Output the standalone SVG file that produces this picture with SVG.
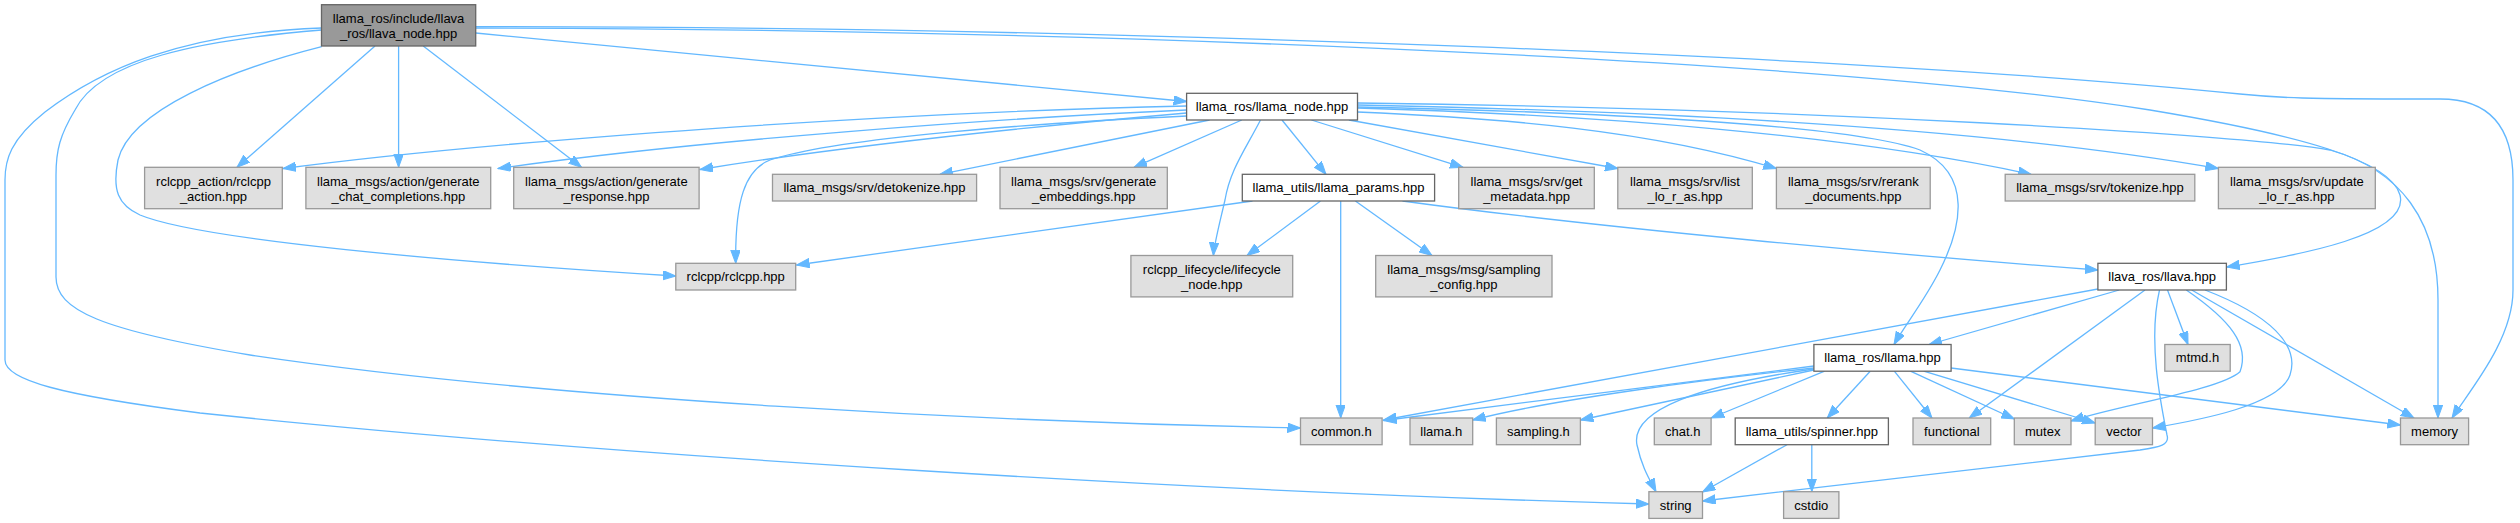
<svg xmlns="http://www.w3.org/2000/svg" width="2520" height="523" viewBox="0 0 2520 523">
<style>
text{font-family:"Liberation Sans",Arial,Helvetica,sans-serif;font-size:13px;fill:#000;text-anchor:middle}
.g{fill:#e0e0e0;stroke:#999999;stroke-width:1.3}
.w{fill:#ffffff;stroke:#666666;stroke-width:1.3}
.m{fill:#999999;stroke:#666666;stroke-width:1.3}
#edges path{fill:none;stroke:#63b8ff;stroke-width:1.3;marker-end:url(#ah)}
</style>
<defs>
<marker id="ah" markerUnits="userSpaceOnUse" markerWidth="14" markerHeight="10" refX="13" refY="4.7" orient="auto">
<path d="M0,0 L13,4.7 L0,9.4 z" fill="#63b8ff" stroke="#63b8ff" stroke-width="1"/>
</marker>
</defs>
<rect width="2520" height="523" fill="#ffffff"/>
<g id="edges">
<!-- main -->
<path d="M475.7,33 L1186.6,101.5"/>
<path d="M375,46 L237,167.3"/>
<path d="M398.6,46 L398.6,167.3"/>
<path d="M423.2,46 L581.5,167.3"/>
<path d="M321.7,46.7 C230,70 130,110 118,160 C112,190 118,205 140,215 C200,240 450,262 675.8,276"/>
<path d="M321.7,30 C200,40 100,60 75,110 C60,135 56,150 56,175 L56,277 C56,310 100,330 250,355 C550,400 1000,422 1300.5,428"/>
<path d="M321.7,28 C180,33 100,70 45,112 C10,140 5,160 5,180 L5,360 C5,380 60,395 200,413 C600,455 1200,492 1648.9,504"/>
<path d="M475.7,28 C1000,28 1800,55 2150,110 C2300,135 2390,160 2400,195 C2410,235 2300,255 2226.7,267"/>
<path d="M475.7,26.7 C1000,26 1800,50 2240,94 C2280,98 2300,99 2440,99 C2500,99 2513,140 2513,180 L2513,290 C2513,340 2470,390 2452,418"/>
<!-- llama_node -->
<path d="M1186.6,106 C900,112 500,140 283,168.5"/>
<path d="M1186.6,110 C1000,118 700,140 498,168.5"/>
<path d="M1186.6,113 C1050,125 850,145 700,169.5"/>
<path d="M1186.6,116 C1000,125 830,140 770,160 C745,170 735,200 735.7,263.3"/>
<path d="M1209.6,120 L940,174.3"/>
<path d="M1241.8,120 L1134,167.3"/>
<path d="M1260.5,120 C1245,150 1230,170 1225,200 C1218,230 1214,245 1213.4,255.5"/>
<path d="M1282,120 L1326,174.3"/>
<path d="M1311.4,120 L1463,167.3"/>
<path d="M1348.9,120 L1618,168.5"/>
<path d="M1357.5,112 C1500,118 1650,130 1776.4,168.5"/>
<path d="M1357.5,108 C1600,115 1850,135 2031,174.3"/>
<path d="M1357.5,105 C1700,112 2000,130 2218.4,168.5"/>
<path d="M1357.5,107 C1600,112 1850,125 1920,150 C1975,175 1960,230 1940,270 C1925,300 1905,325 1894,344.5"/>
<path d="M1357.5,103 C1800,108 2250,135 2330,150 C2400,170 2438,220 2438,300 L2438,418"/>
<!-- llama_params -->
<path d="M1252.5,201 L796.5,265"/>
<path d="M1320.5,201 L1247,255.5"/>
<path d="M1340.7,201 L1340.7,418"/>
<path d="M1355.4,201 L1432,255.5"/>
<path d="M1402.5,201 C1600,228 1900,255 2097.9,270"/>
<!-- llava.hpp -->
<path d="M2097.9,289 L1383.5,420"/>
<path d="M2119.3,290 L1929,344.5"/>
<path d="M2145,290 L1969.3,418"/>
<path d="M2159.5,290 C2148,340 2160,400 2167,435 C2170,445 2160,447 2140,450 L1702.5,501"/>
<path d="M2167.5,290 L2188,344.5"/>
<path d="M2186.3,290 C2230,320 2250,345 2240,371.7 C2220,390 2120,405 2071,421"/>
<path d="M2205,290 C2270,315 2300,345 2290,375 C2280,405 2200,420 2152.5,428"/>
<path d="M2191.7,290 L2414,418"/>
<!-- llama.hpp -->
<path d="M1813.9,366 L1383.5,420.5"/>
<path d="M1813.9,368 C1700,380 1550,400 1472.7,420"/>
<path d="M1813.9,370 L1580.4,420"/>
<path d="M1824.6,371.2 L1711.1,418"/>
<path d="M1813.9,369 C1700,385 1630,410 1637,445 C1642,468 1650,480 1656,491.7"/>
<path d="M1870.2,371.2 L1827.3,418"/>
<path d="M1894.3,371.2 L1932,418"/>
<path d="M1910.4,371.2 L2014.3,419"/>
<path d="M1923.7,371.2 L2095.2,423"/>
<path d="M1951,368 L2400.5,425"/>
<!-- spinner -->
<path d="M1787,444.7 L1702.5,492"/>
<path d="M1811.8,444.7 L1811.8,491.7"/>
</g>
<g id="n_main"><rect class="m" x="321.5" y="4.7" width="154.2" height="41.3"/><text x="398.6" y="23.4">llama_ros/include/llava</text><text x="398.6" y="38">_ros/llava_node.hpp</text></g>
<g id="n_rclcpp_action"><rect class="g" x="144.6" y="167.3" width="137.7" height="41.4"/><text x="213.5" y="186">rclcpp_action/rclcpp</text><text x="213.5" y="200.6">_action.hpp</text></g>
<g id="n_chat"><rect class="g" x="305.9" y="167.3" width="184.8" height="41.4"/><text x="398.3" y="186">llama_msgs/action/generate</text><text x="398.3" y="200.6">_chat_completions.hpp</text></g>
<g id="n_response"><rect class="g" x="513.7" y="167.3" width="185.4" height="41.4"/><text x="606.4" y="186">llama_msgs/action/generate</text><text x="606.4" y="200.6">_response.hpp</text></g>
<g id="n_detokenize"><rect class="g" x="772.5" y="174.3" width="204.1" height="26.7"/><text x="874.5" y="192.1">llama_msgs/srv/detokenize.hpp</text></g>
<g id="n_embeddings"><rect class="g" x="1000" y="167.3" width="167.3" height="41.4"/><text x="1083.7" y="186">llama_msgs/srv/generate</text><text x="1083.7" y="200.6">_embeddings.hpp</text></g>
<g id="n_llama_node"><rect class="w" x="1186.6" y="93.3" width="170.9" height="26.7"/><text x="1272" y="111.1">llama_ros/llama_node.hpp</text></g>
<g id="n_llama_params"><rect class="w" x="1242.3" y="174.3" width="192.3" height="26.7"/><text x="1338.5" y="192.1">llama_utils/llama_params.hpp</text></g>
<g id="n_get_metadata"><rect class="g" x="1458.7" y="167.3" width="135.6" height="41.4"/><text x="1526.5" y="186">llama_msgs/srv/get</text><text x="1526.5" y="200.6">_metadata.hpp</text></g>
<g id="n_list"><rect class="g" x="1617.8" y="167.3" width="134.5" height="41.4"/><text x="1685" y="186">llama_msgs/srv/list</text><text x="1685" y="200.6">_lo_r_as.hpp</text></g>
<g id="n_rerank"><rect class="g" x="1776.4" y="167.3" width="153.8" height="41.4"/><text x="1853.3" y="186">llama_msgs/srv/rerank</text><text x="1853.3" y="200.6">_documents.hpp</text></g>
<g id="n_tokenize"><rect class="g" x="2005.2" y="174.3" width="189.6" height="26.7"/><text x="2100" y="192.1">llama_msgs/srv/tokenize.hpp</text></g>
<g id="n_update"><rect class="g" x="2218.4" y="167.3" width="156.9" height="41.4"/><text x="2296.9" y="186">llama_msgs/srv/update</text><text x="2296.9" y="200.6">_lo_r_as.hpp</text></g>
<g id="n_rclcpp"><rect class="g" x="675.8" y="263.3" width="119.9" height="26.7"/><text x="735.7" y="281.1">rclcpp/rclcpp.hpp</text></g>
<g id="n_lifecycle"><rect class="g" x="1130.9" y="255.5" width="161.8" height="41.4"/><text x="1211.8" y="274.2">rclcpp_lifecycle/lifecycle</text><text x="1211.8" y="288.8">_node.hpp</text></g>
<g id="n_sampling_config"><rect class="g" x="1375.7" y="255.5" width="176.3" height="41.4"/><text x="1463.9" y="274.2">llama_msgs/msg/sampling</text><text x="1463.9" y="288.8">_config.hpp</text></g>
<g id="n_llava"><rect class="w" x="2097.9" y="263.3" width="128.5" height="26.7"/><text x="2162.1" y="281.1">llava_ros/llava.hpp</text></g>
<g id="n_llama"><rect class="w" x="1813.9" y="344.5" width="137.2" height="26.7"/><text x="1882.5" y="362.3">llama_ros/llama.hpp</text></g>
<g id="n_mtmd"><rect class="g" x="2164.8" y="344.5" width="65.4" height="26.7"/><text x="2197.5" y="362.3">mtmd.h</text></g>
<g id="n_common"><rect class="g" x="1300.5" y="418" width="81.6" height="26.7"/><text x="1341.3" y="435.8">common.h</text></g>
<g id="n_llama_h"><rect class="g" x="1410" y="418" width="62.7" height="26.7"/><text x="1441.3" y="435.8">llama.h</text></g>
<g id="n_sampling_h"><rect class="g" x="1496.4" y="418" width="84" height="26.7"/><text x="1538.4" y="435.8">sampling.h</text></g>
<g id="n_chat_h"><rect class="g" x="1654.3" y="418" width="56.8" height="26.7"/><text x="1682.7" y="435.8">chat.h</text></g>
<g id="n_spinner"><rect class="w" x="1735.2" y="418" width="153.2" height="26.7"/><text x="1811.8" y="435.8">llama_utils/spinner.hpp</text></g>
<g id="n_functional"><rect class="g" x="1913" y="418" width="77.7" height="26.7"/><text x="1951.9" y="435.8">functional</text></g>
<g id="n_mutex"><rect class="g" x="2014.3" y="418" width="56.7" height="26.7"/><text x="2042.7" y="435.8">mutex</text></g>
<g id="n_vector"><rect class="g" x="2095.2" y="418" width="57.3" height="26.7"/><text x="2123.9" y="435.8">vector</text></g>
<g id="n_memory"><rect class="g" x="2400.5" y="418" width="68.1" height="26.7"/><text x="2434.6" y="435.8">memory</text></g>
<g id="n_string"><rect class="g" x="1648.9" y="491.7" width="53.6" height="26.7"/><text x="1675.7" y="509.5">string</text></g>
<g id="n_cstdio"><rect class="g" x="1783.6" y="491.7" width="55.3" height="26.7"/><text x="1811.3" y="509.5">cstdio</text></g>
</svg>
